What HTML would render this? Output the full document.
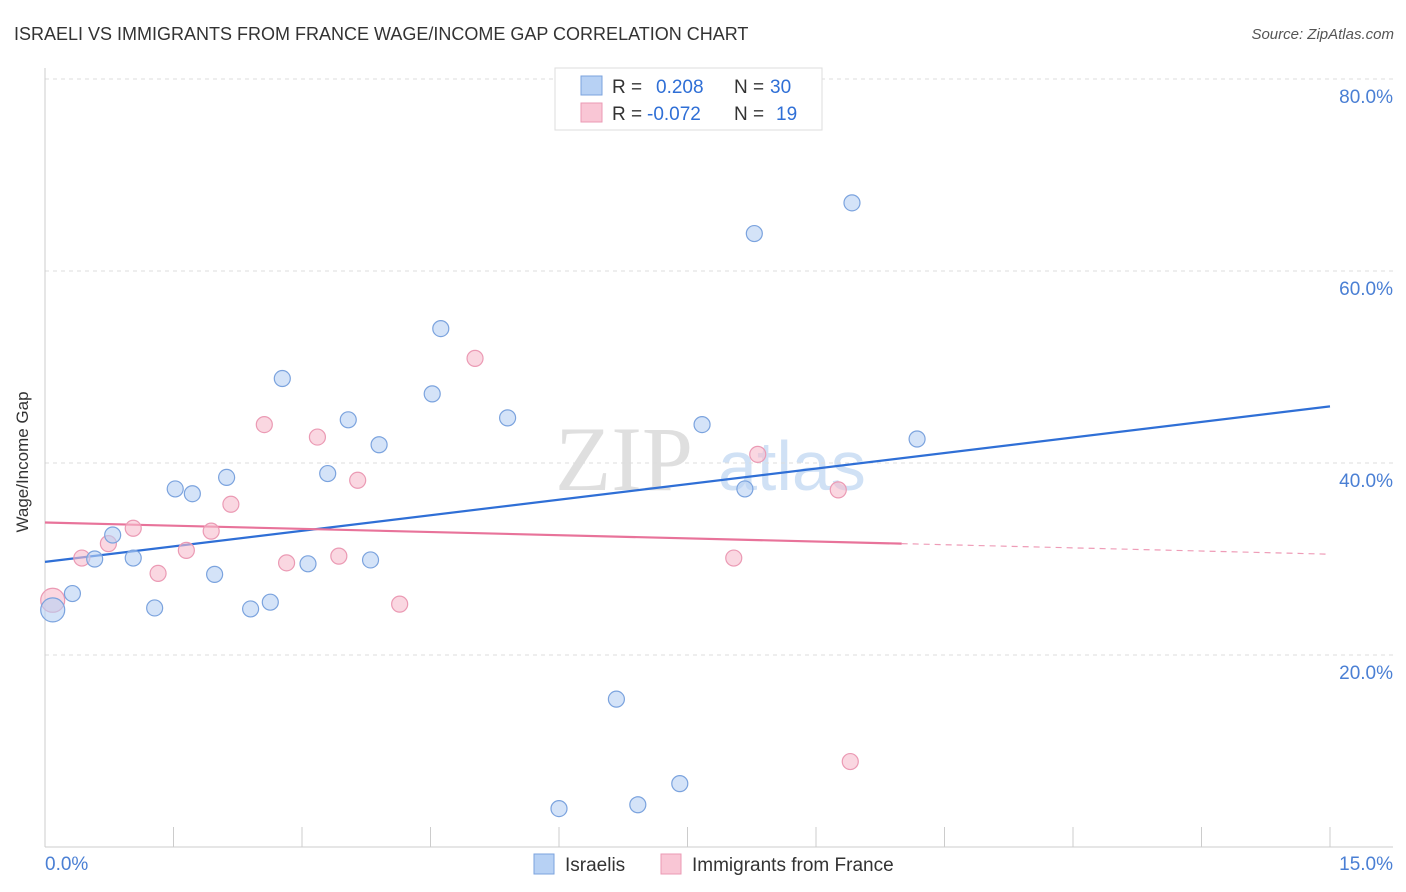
<!DOCTYPE html>
<html><head><meta charset="utf-8"><style>
body{margin:0;background:#fff;font-family:"Liberation Sans",sans-serif;}
svg{display:block}
</style></head><body>
<svg id="chart" width="1406" height="892">
<text x="14" y="40" font-size="18" fill="#333">ISRAELI VS IMMIGRANTS FROM FRANCE WAGE/INCOME GAP CORRELATION CHART</text>
<text x="1394" y="39" font-size="15" fill="#555" font-style="italic" text-anchor="end">Source: ZipAtlas.com</text>
<g>
<text x="555" y="490" font-size="92" fill="#d8d8d8" font-family="Liberation Serif,serif" opacity="0.8">ZIP</text>
<text x="718" y="490" font-size="70" fill="#c5daf3" opacity="0.8">atlas</text>
</g>
<g id="grid"></g>
<g id="axes"></g>
<g id="lines"></g>
<g id="points"></g>
<g>
<rect x="555" y="68" width="267" height="62" fill="#fff" stroke="#ddd"/>
<rect x="581" y="76" width="21" height="19" fill="#b7d1f4" stroke="#7ba3de"/>
<rect x="581" y="103" width="21" height="19" fill="#f9c6d5" stroke="#eb9ab4"/>
<text x="612" y="93" font-size="19" fill="#333">R = <tspan fill="#2f6fd6" x="656">0.208</tspan><tspan x="734" fill="#333">N =</tspan><tspan x="770" fill="#2f6fd6">30</tspan></text>
<text x="612" y="120" font-size="19" fill="#333">R = <tspan fill="#2f6fd6" x="647">-0.072</tspan><tspan x="734" fill="#333">N =</tspan><tspan x="776" fill="#2f6fd6">19</tspan></text>
</g>
<g>
<rect x="534" y="854" width="20" height="20" fill="#b7d1f4" stroke="#7ba3de"/>
<text x="565" y="871" font-size="19" fill="#333">Israelis</text>
<rect x="661" y="854" width="20" height="20" fill="#f9c6d5" stroke="#eb9ab4"/>
<text x="692" y="871" font-size="19" fill="#333">Immigrants from France</text>
</g>
<text x="22" y="456" font-size="17" fill="#333" text-anchor="middle" transform="rotate(-90 28 456)">Wage/Income Gap</text>
</svg>
<script>
const yTicks=[20,40,60,80];
const yTickLabels=["20.0%","40.0%","60.0%","80.0%"];
const xTickLabels=["0.0%","15.0%"];
const israeliX=[0.09,0.32,0.58,0.79,1.03,1.28,1.52,1.72,1.98,2.12,2.40,2.63,2.77,3.07,3.30,3.54,3.80,3.90,4.52,4.62,5.40,6.00,6.67,6.92,7.41,7.67,8.17,8.28,9.42,10.18];
const israeliY=[24.7,26.4,30.0,32.5,30.1,24.9,37.3,36.8,28.4,38.5,24.8,25.5,48.8,29.5,38.9,44.5,29.9,41.9,47.2,54.0,44.7,4.0,15.4,4.4,6.6,44.0,37.3,63.9,67.1,42.5];
const franceX=[0.09,0.43,0.74,1.03,1.32,1.65,1.94,2.17,2.56,2.82,3.18,3.43,3.65,4.14,5.02,8.04,8.32,9.26,9.40];
const franceY=[25.7,30.1,31.6,33.2,28.5,30.9,32.9,35.7,44.0,29.6,42.7,30.3,38.2,25.3,50.9,30.1,40.9,37.2,8.9];
const blueTrend=[29.7,45.9];
const pinkTrend=[33.8,30.5];
const pinkSolidEnd=10.0;
const NS="http://www.w3.org/2000/svg";
const X=v=>45+v/15*1285;
const Y=v=>847-v*9.6;
function mk(tag,attrs,parent){const e=document.createElementNS(NS,tag);for(const k in attrs)e.setAttribute(k,attrs[k]);document.getElementById(parent).appendChild(e);return e;}
yTicks.forEach((t,i)=>{
 const l=mk('line',{x1:45,x2:1393,y1:Y(t),y2:Y(t),stroke:'#ddd','stroke-dasharray':'4,4'},'grid');
 
 
 const tx=mk('text',{x:1393,y:Y(t)+24,'font-size':19,fill:'#4a7fd4','text-anchor':'end'},'grid');
 tx.textContent=yTickLabels[i];
 
 
});
mk('line',{x1:45,x2:45,y1:68,y2:847,stroke:'#ccc'},'axes');
mk('line',{x1:45,x2:1393,y1:847,y2:847,stroke:'#ccc'},'axes');
for(let i=1;i<=10;i++){const t=mk('line',{x1:X(i*1.5),x2:X(i*1.5),y1:827,y2:847,stroke:'#ccc'},'axes');
 
 }
const xl0=mk('text',{x:45,y:870,'font-size':19,fill:'#4a7fd4'},'axes');xl0.textContent=xTickLabels[0];


const xl1=mk('text',{x:1393,y:870,'font-size':19,fill:'#4a7fd4','text-anchor':'end'},'axes');xl1.textContent=xTickLabels[1];


function pts(xs,ys,fill,stroke,name){xs.forEach((x,i)=>{const c=mk('circle',{cx:X(x),cy:Y(ys[i]),r:i==0?12:8,fill:fill,stroke:stroke,'stroke-width':1.2,'fill-opacity':0.6},'points');
 
 });}
pts(franceX,franceY,'#f7bccd','#eb9ab4','point-france');
pts(israeliX,israeliY,'#b7d1f4','#7ba3de','point-israeli');
const bl=mk('line',{x1:X(0),y1:Y(blueTrend[0]),x2:X(15),y2:Y(blueTrend[1]),stroke:'#2f6fd6','stroke-width':2.2},'lines');


const pm=pinkTrend[0]+(pinkTrend[1]-pinkTrend[0])*pinkSolidEnd/15;
const pl=mk('line',{x1:X(0),y1:Y(pinkTrend[0]),x2:X(pinkSolidEnd),y2:Y(pm),stroke:'#e8739a','stroke-width':2.2},'lines');


const pd=mk('line',{x1:X(pinkSolidEnd),y1:Y(pm),x2:X(15),y2:Y(pinkTrend[1]),stroke:'#e8739a','stroke-width':1.2,'stroke-dasharray':'6,5','opacity':0.7},'lines');


</script>
</body></html>
